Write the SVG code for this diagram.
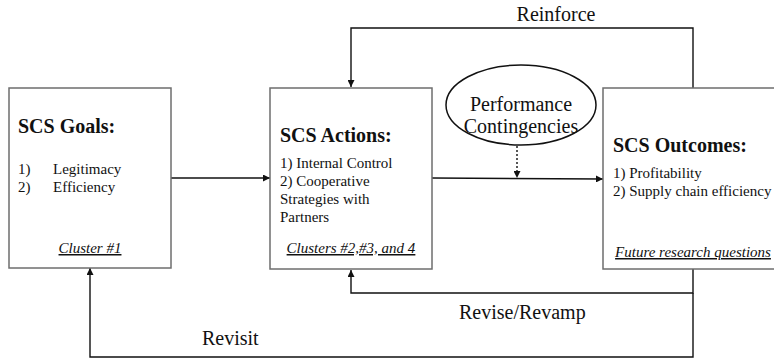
<svg xmlns="http://www.w3.org/2000/svg" width="774" height="361" viewBox="0 0 774 361">
<style>
text{font-family:"Liberation Serif","Times New Roman",serif;fill:#111}
.box{fill:#fff;stroke:#6e6e6e;stroke-width:1.5}
.h{font-weight:bold;font-size:20px}
.t{font-size:15px}
.c{font-size:15px;font-style:italic;text-decoration:underline;text-anchor:middle}
.lbl{font-size:20px}
.ln{fill:none;stroke:#111;stroke-width:1.4}
</style>
<defs>
<marker id="ah" viewBox="0 0 10 10" refX="10" refY="5" markerWidth="7" markerHeight="7" orient="auto" markerUnits="userSpaceOnUse">
<path d="M0,0 L10,5 L0,10 z" fill="#111"/>
</marker>
</defs>
<g id="connectors">
<path class="ln" d="M171,178 L270,178" marker-end="url(#ah)"/>
<path class="ln" d="M432,178 L603,179" marker-end="url(#ah)"/>
<path class="ln" d="M517,146 L517,178" stroke-dasharray="2,2" marker-end="url(#ah)"/>
<path class="ln" d="M693,88 L693,28 L351,28 L351,87" marker-end="url(#ah)"/>
<path class="ln" d="M693,269 L693,293 L351,293 L351,270" marker-end="url(#ah)"/>
<path class="ln" d="M693,293 L693,357 L90,357 L90,268" marker-end="url(#ah)"/>
<text class="lbl" x="556" y="21" text-anchor="middle">Reinforce</text>
<text class="lbl" x="459" y="319">Revise/Revamp</text>
<text class="lbl" x="202" y="345">Revisit</text>
</g>
<g id="goals">
<rect class="box" x="9" y="88" width="162" height="180"/>
<text class="h" x="18" y="133">SCS Goals:</text>
<text class="t" x="18" y="174">1)</text>
<text class="t" x="53" y="174">Legitimacy</text>
<text class="t" x="18" y="192">2)</text>
<text class="t" x="53" y="192">Efficiency</text>
<text class="c" x="90" y="253">Cluster #1</text>
</g>
<g id="actions">
<rect class="box" x="270" y="88" width="162" height="181"/>
<text class="h" x="280" y="142">SCS Actions:</text>
<text class="t" x="280" y="168">1) Internal Control</text>
<text class="t" x="280" y="186">2) Cooperative</text>
<text class="t" x="280" y="204">Strategies with</text>
<text class="t" x="280" y="222">Partners</text>
<text class="c" x="351" y="253">Clusters #2,#3, and 4</text>
</g>
<g id="outcomes">
<rect class="box" x="603" y="88" width="178" height="181"/>
<text class="h" x="613" y="152">SCS Outcomes:</text>
<text class="t" x="613" y="178">1) Profitability</text>
<text class="t" x="613" y="196">2) Supply chain efficiency</text>
<text class="c" x="693" y="257">Future research questions</text>
</g>
<g id="contingencies">
<ellipse cx="521" cy="105" rx="75" ry="40" fill="#fff" stroke="#111" stroke-width="1.5"/>
<text class="lbl" x="521" y="111" text-anchor="middle">Performance</text>
<text class="lbl" x="521" y="133" text-anchor="middle">Contingencies</text>
</g>
</svg>
